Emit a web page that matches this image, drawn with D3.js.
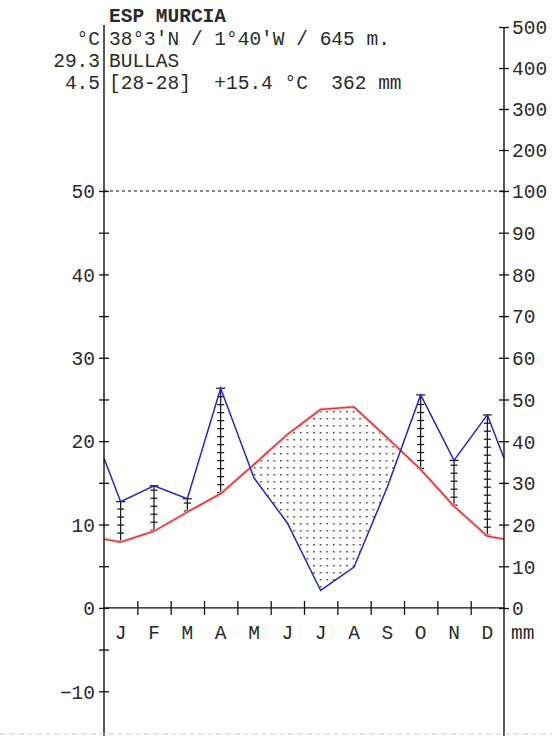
<!DOCTYPE html>
<html>
<head>
<meta charset="utf-8">
<script src="https://cdn.jsdelivr.net/npm/d3@7"></script>
<style>
  body { margin: 0; background: #fff; }
  text { font-family: "Liberation Mono", "Courier New", monospace; fill: #2a2a2a; }
</style>
</head>
<body>
<div id="chart"></div>
<script>
// climate data
const months = ["J", "F", "M", "A", "M", "J", "J", "A", "S", "O", "N", "D"];
const temp = [7.9, 9.2, 11.5, 13.7, 17.2, 20.8, 23.8, 24.1, 20.4, 16.6, 12.2, 8.6];
const precip = [25.5, 29.3, 26.2, 52.7, 31.2, 20.4, 4.2, 9.8, 29.0, 51.1, 35.4, 46.3];

const tempTicks = [-10, 0, 10, 20, 30, 40, 50];
const tempMinor = [-5, 5, 15, 25, 35, 45];
const precipTicks = [0, 10, 20, 30, 40, 50, 60, 70, 80, 90, 100, 200, 300, 400, 500];

const station = "ESP MURCIA";
const coords = "38°3'N / 1°40'W / 645 m.";
const place = "BULLAS";
const years = "[28-28]  +15.4 °C  362 mm";
const maxMin = ["29.3", "4.5"];

const width = 552, height = 736;
const left = 104, right = 504;
const fs = 19.5;

let svg = d3.select("#chart")
    .append("svg")
    .attr("width", width)
    .attr("height", height);

// scales
let x = d3.scaleLinear().domain([0, 12]).range([left, right]);
let yT = d3.scaleLinear().domain([-10, 50]).range([691.3, 191]);
let yP = d3.scaleLinear().domain([0, 100, 500]).range([608, 191, 27]);

// points at month centres, wrapped to the edges
let tPts = temp.map(function(d, i) { return [i + 0.5, d]; });
let pPts = precip.map(function(d, i) { return [i + 0.5, d]; });
let tEdge = (temp[0] + temp[11]) / 2, pEdge = (precip[0] + precip[11]) / 2;
tPts = [[0, tEdge]].concat(tPts, [[12, tEdge]]);
pPts = [[0, pEdge]].concat(pPts, [[12, pEdge]]);

// dotted pattern for the dry season
let defs = svg.append("defs");
let pat = defs.append("pattern")
    .attr("id", "dots")
    .attr("patternUnits", "userSpaceOnUse")
    .attr("width", 6.6)
    .attr("height", 7)
    .attr("x", 1)
    .attr("y", 2);
pat.append("rect").attr("x", 2).attr("y", 3).attr("width", 1.5).attr("height", 1.5).attr("fill", "#333");

defs.append("clipPath")
    .attr("id", "aboveRain")
    .append("path")
    .attr("d", d3.area()
        .x(function(d) { return x(d[0]); })
        .y0(0)
        .y1(function(d) { return yP(d[1]); })(pPts));

svg.append("path")
    .attr("d", d3.area()
        .x(function(d) { return x(d[0]); })
        .y0(height)
        .y1(function(d) { return yT(d[1]); })(tPts))
    .attr("fill", "url(#dots)")
    .attr("clip-path", "url(#aboveRain)");

// humid ladders at months where rain is over the temperature curve
months.forEach(function(m, i) {
    let yr = yP(precip[i]), yt = yT(temp[i]);
    if (yr >= yt) return;
    let cx = x(i + 0.5);
    let g = svg.append("g").attr("stroke", "#111").attr("stroke-width", 1.2);
    g.append("line").attr("x1", cx).attr("x2", cx).attr("y1", yr).attr("y2", yt);
    g.append("line").attr("x1", cx - 4.5).attr("x2", cx + 4.5).attr("y1", yr).attr("y2", yr);
    for (let yy = yt - 1; yy > yr + 4; yy -= 8) {
        g.append("line").attr("x1", cx - 3.5).attr("x2", cx + 3.5).attr("y1", yy).attr("y2", yy);
    }
});

// 50 °C / 100 mm dashed line
svg.append("line")
    .attr("x1", left).attr("x2", right)
    .attr("y1", yT(50)).attr("y2", yT(50))
    .attr("stroke", "#111")
    .attr("stroke-width", 1.2)
    .attr("stroke-dasharray", "3,3");

// temperature and rain curves
svg.append("path")
    .attr("d", d3.line().x(function(d) { return x(d[0]); }).y(function(d) { return yT(d[1]); })(tPts))
    .attr("fill", "none")
    .attr("stroke", "#f8b8b8")
    .attr("stroke-width", 3);
svg.append("path")
    .attr("d", d3.line().x(function(d) { return x(d[0]); }).y(function(d) { return yT(d[1]); })(tPts))
    .attr("fill", "none")
    .attr("stroke", "#e03030")
    .attr("stroke-width", 1.3);
svg.append("path")
    .attr("d", d3.line().x(function(d) { return x(d[0]); }).y(function(d) { return yP(d[1]); })(pPts))
    .attr("fill", "none")
    .attr("stroke", "#2424c8")
    .attr("stroke-width", 1.5);

// axis lines
svg.append("line").attr("x1", left).attr("x2", left).attr("y1", 25).attr("y2", height).attr("stroke", "#111").attr("stroke-width", 1.4);
svg.append("line").attr("x1", right).attr("x2", right).attr("y1", 27).attr("y2", height).attr("stroke", "#111").attr("stroke-width", 1.4);
svg.append("line").attr("x1", left).attr("x2", right).attr("y1", yT(0)).attr("y2", yT(0)).attr("stroke", "#111").attr("stroke-width", 1.4);

// left temperature axis
let la = svg.append("g")
    .attr("transform", "translate(" + left + ",0)")
    .call(d3.axisLeft(yT).tickValues(tempTicks).tickSize(5).tickPadding(4));
let lm = svg.append("g")
    .attr("transform", "translate(" + left + ",0)")
    .call(d3.axisLeft(yT).tickValues(tempMinor).tickSize(5).tickFormat(""));

// right rain axis
let ra = svg.append("g")
    .attr("transform", "translate(" + right + ",0)")
    .call(d3.axisRight(yP).tickValues(precipTicks).tickSize(5).tickPadding(3));

// month ticks
let ma = svg.append("g")
    .attr("transform", "translate(0," + yT(0) + ")")
    .call(d3.axisBottom(x).tickValues(d3.range(1, 12)).tickSize(7).tickFormat(""));

[la, lm, ra].forEach(function(a) {
    a.select(".domain").remove();
    a.selectAll("line").attr("stroke", "#111").attr("stroke-width", 1.3);
    a.selectAll("text").style("font-size", fs + "px").attr("fill", "#2a2a2a").attr("dy", "0.35em");
});
la.selectAll(".tick line").attr("x1", 5);
lm.selectAll(".tick line").attr("x1", 5);
ra.selectAll(".tick line").attr("x1", -5);
ma.select(".domain").remove();
ma.selectAll(".tick line").attr("y1", -7).attr("stroke", "#111").attr("stroke-width", 1.3);

// month letters
svg.selectAll("mylabels")
    .data(months)
    .enter()
    .append("text")
    .attr("x", function(d, i) { return x(i + 0.5); })
    .attr("y", 639)
    .style("text-anchor", "middle")
    .style("font-size", fs + "px")
    .text(function(d) { return d; });
svg.append("text")
    .text("mm")
    .attr("x", 511)
    .attr("y", 639)
    .style("font-size", fs + "px");

// header
svg.append("text")
    .text(station)
    .attr("x", 109)
    .attr("y", 22)
    .style("font-size", fs + "px")
    .style("font-weight", "bold");
svg.append("text").text("°C").attr("x", 100).attr("y", 45).style("text-anchor", "end").style("font-size", fs + "px");
svg.append("text").text(coords).attr("x", 109).attr("y", 45).style("font-size", fs + "px");
svg.append("text").text(maxMin[0]).attr("x", 100).attr("y", 67).style("text-anchor", "end").style("font-size", fs + "px");
svg.append("text").text(place).attr("x", 109).attr("y", 67).style("font-size", fs + "px");
svg.append("text").text(maxMin[1]).attr("x", 100).attr("y", 89).style("text-anchor", "end").style("font-size", fs + "px");
svg.append("text").text(years).attr("x", 109).attr("y", 89).style("font-size", fs + "px").style("white-space", "pre");

// faint line at the bottom edge
svg.append("line")
    .attr("x1", 0).attr("x2", width)
    .attr("y1", 734).attr("y2", 734)
    .attr("stroke", "#ccc")
    .attr("stroke-dasharray", "6,3");
</script>
</body>
</html>
